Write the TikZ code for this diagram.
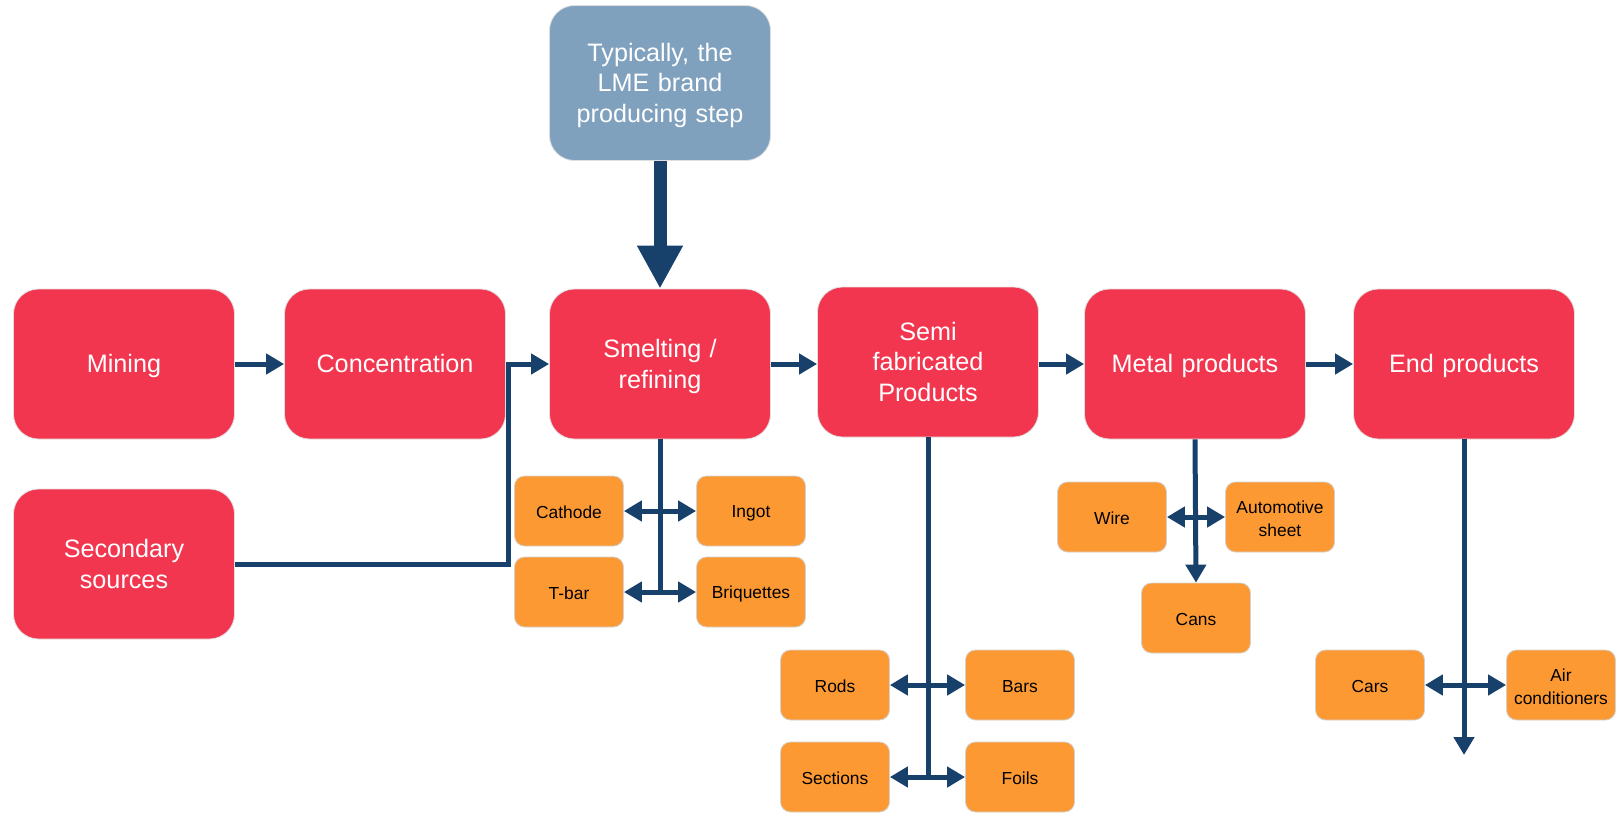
\documentclass[tikz,border=0pt]{standalone}
\usepackage{fontspec}
\setmainfont{Liberation Sans}
\usetikzlibrary{arrows.meta}
\definecolor{stagered}{RGB}{242,54,79}
\definecolor{prodorange}{RGB}{253,153,51}
\definecolor{notegrey}{RGB}{127,161,190}
\definecolor{flowblue}{RGB}{23,64,107}
\newcommand\stagestrut{\rule[-0.25em]{0pt}{1.2em}}
\newcommand\prodstrut{\rule[-0.1em]{0pt}{1.1em}}
\begin{document}
\begin{tikzpicture}
  [x=0.5pt, y=-0.5pt,
   every node/.style={align=center, inner sep=2pt},
   stage/.style={fill=stagered, draw=gray!25, line width=0.4pt, rounded corners=12.5pt, text=white,
                 minimum width=110.5pt, minimum height=75pt, text width=104pt,
                 font=\fontsize{12.6}{15.2}\selectfont,
                 execute at begin node=\stagestrut, execute at end node=\stagestrut},
   note/.style={stage, fill=notegrey, minimum height=77.5pt},
   product/.style={fill=prodorange, draw=gray!35, line width=0.4pt, rounded corners=5pt, text=black,
                   minimum width=54.5pt, minimum height=35pt, text width=50pt,
                   font=\fontsize{8.7}{11.4}\selectfont,
                   execute at begin node=\prodstrut, execute at end node=\prodstrut},
   flow/.style={draw=flowblue, line width=2.5pt, -{Triangle[length=9pt,width=10pt]}},
   link/.style={draw=flowblue, line width=2.5pt},
   both/.style={draw=flowblue, line width=2.5pt, {Triangle[length=9pt,width=10pt]}-{Triangle[length=9pt,width=10pt]}}]
  \useasboundingbox (0,0) rectangle (1624,814);
  % main chain
  \node [note]  (lme)    at (660,83)   {Typically, the\\LME brand\\producing step};
  \node [stage] (mining) at (124,364)  {Mining};
  \node [stage] (conc)   at (395,364)  {Concentration};
  \node [stage] (smelt)  at (660,364)  {Smelting /\\refining};
  \node [stage] (semi)   at (928,362)  {Semi\\fabricated\\Products};
  \node [stage] (metal)  at (1195,364) {Metal products};
  \node [stage] (endp)   at (1464,364) {End products};
  \node [stage] (second) at (124,564)  {Secondary\\sources};
  % products of each step
  \node [product] (cath)  at (569,511)  {Cathode};
  \node [product] (ingot) at (751,511)  {Ingot};
  \node [product] (tbar)  at (569,592)  {T-bar};
  \node [product] (briq)  at (751,592)  {Briquettes};
  \node [product] (rods)  at (835,685)  {Rods};
  \node [product] (bars)  at (1020,685) {Bars};
  \node [product] (sect)  at (835,777)  {Sections};
  \node [product] (foils) at (1020,777) {Foils};
  \node [product] (wire)  at (1112,517) {Wire};
  \node [product] (auto)  at (1280,517) {Automotive\\sheet};
  \node [product] (cans)  at (1196,618) {Cans};
  \node [product] (cars)  at (1370,685) {Cars};
  \node [product] (air)   at (1561,685) {Air\\conditioners};
  \coordinate (jn)  at (508,364);
  \coordinate (tip) at (1464,755);
  % connectors
  \draw [flowblue, line width=6.5pt, -{Triangle[length=21.5pt,width=21.5pt]}] (lme.south) -- (smelt.north);
  \draw [flow] (mining.east) -- (conc.east -| conc.west);
  \draw [flow] (conc.east) -- (smelt.west);
  \draw [link] (second.east) -| (jn);
  \draw [flow] (smelt.east) -- (semi.west |- smelt.east);
  \draw [flow] (semi.east |- metal.west) -- (metal.west);
  \draw [flow] (metal.east) -- (endp.west);
  \draw [link] (smelt.south) -- (smelt.south |- tbar.east);
  \draw [both] (cath.east) -- (ingot.west);
  \draw [both] (tbar.east) -- (briq.west);
  \draw [link] (semi.south) -- (semi.south |- sect.east);
  \draw [both] (rods.east) -- (bars.west);
  \draw [both] (sect.east) -- (foils.west);
  \draw [flow] (metal.south) -- (cans.north);
  \draw [both] (wire.east) -- (auto.west);
  \draw [flow] (endp.south) -- (tip);
  \draw [both] (cars.east) -- (air.west);
\end{tikzpicture}
\end{document}
